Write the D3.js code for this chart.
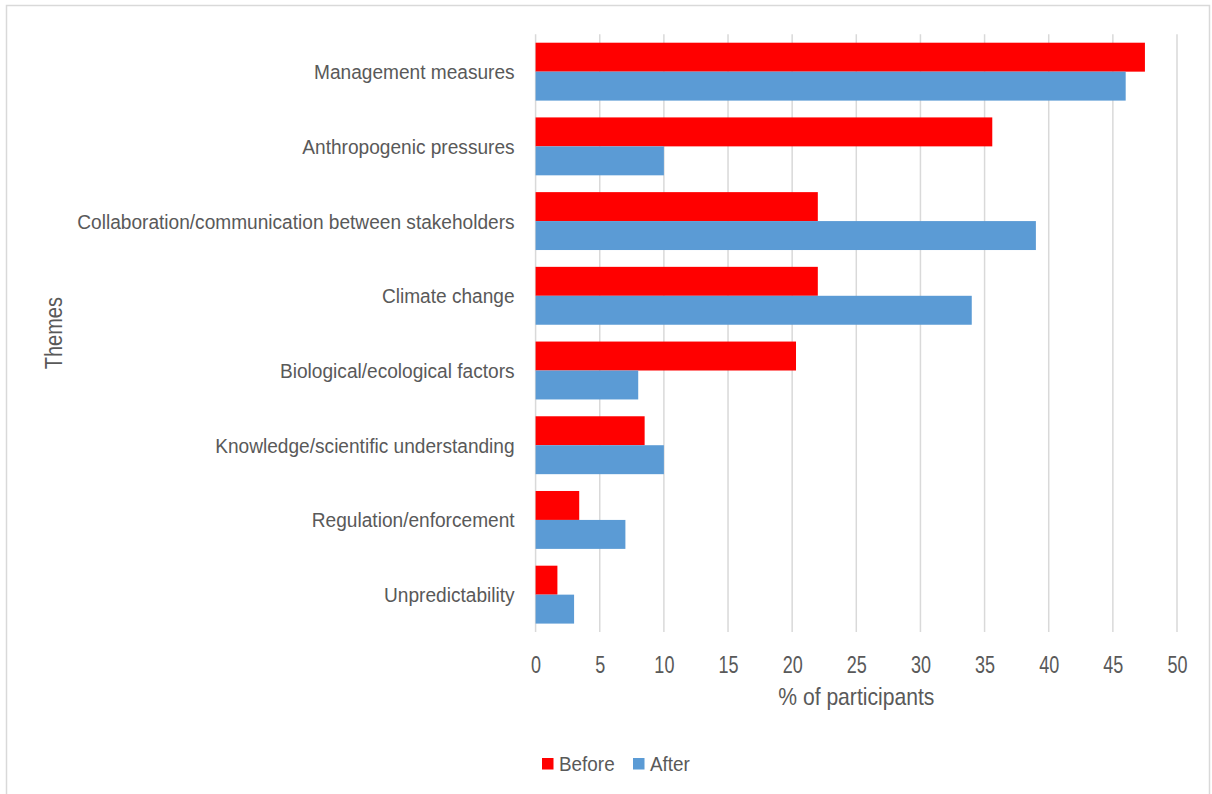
<!DOCTYPE html>
<html>
<head>
<meta charset="utf-8">
<script src="https://cdn.jsdelivr.net/npm/d3@7"></script>
<style>
  html, body { margin: 0; padding: 0; background: #fff; }
  svg { display: block; }
  text { font-family: "Liberation Sans", Arial, sans-serif; fill: #595959; }
</style>
</head>
<body>
<svg id="chart" width="1212" height="794"></svg>
<script>
// Themes mentioned by participants, before and after the workshop
const themes = [
  "Management measures",
  "Anthropogenic pressures",
  "Collaboration/communication between stakeholders",
  "Climate change",
  "Biological/ecological factors",
  "Knowledge/scientific understanding",
  "Regulation/enforcement",
  "Unpredictability"
];
const before = [47.5, 35.6, 22.0, 22.0, 20.3, 8.5, 3.4, 1.7];
const after = [46, 10, 39, 34, 8, 10, 7, 3];
const seriesNames = ["Before", "After"];
const seriesColors = ["#FF0000", "#5B9BD5"];
const xTicks = [0, 5, 10, 15, 20, 25, 30, 35, 40, 45, 50];

const svg = d3.select("#chart");

// outer frame
svg.append("rect")
  .attr("x", 6.5).attr("y", 5.5)
  .attr("width", 1203).attr("height", 800)
  .attr("fill", "none").attr("stroke", "#d9d9d9").attr("stroke-width", 1.5);

const plot = { left: 535.6, right: 1177, top: 34.3, bottom: 632 };

const x = d3.scaleLinear().domain([0, 50]).range([plot.left, plot.right]);
const y = d3.scaleBand().domain(themes).range([plot.top, plot.bottom])
  .paddingInner(0.225).paddingOuter(0.1125);
const ySub = d3.scaleBand().domain(seriesNames).range([0, y.bandwidth()]);

// vertical gridlines
svg.append("g")
  .selectAll("line")
  .data(xTicks)
  .join("line")
  .attr("x1", d => x(d)).attr("x2", d => x(d))
  .attr("y1", plot.top).attr("y2", plot.bottom)
  .attr("stroke", "#d9d9d9").attr("stroke-width", 1.5);

// bars
const rows = themes.map((t, i) => ({ theme: t, values: [before[i], after[i]] }));
svg.append("g")
  .selectAll("g")
  .data(rows)
  .join("g")
  .attr("transform", d => `translate(0,${y(d.theme)})`)
  .selectAll("rect")
  .data(d => d.values.map((v, j) => ({ key: seriesNames[j], value: v, color: seriesColors[j] })))
  .join("rect")
  .attr("x", x(0))
  .attr("y", d => ySub(d.key))
  .attr("width", d => x(d.value) - x(0))
  .attr("height", ySub.bandwidth())
  .attr("fill", d => d.color);

// x axis tick labels (tall, condensed numerals)
const xAxis = d3.axisBottom(x).tickValues(xTicks).tickSize(0).tickPadding(0);
const gx = svg.append("g").attr("transform", `translate(0,${plot.bottom})`).call(xAxis);
gx.select(".domain").remove();
gx.selectAll("text")
  .attr("font-size", 24).attr("fill", "#595959")
  .attr("font-family", "Liberation Sans, Arial, sans-serif")
  .attr("y", 41).attr("dy", 0)
  .attr("transform", "scale(0.75,1)");

// y axis category labels
const labelScale = 0.91;
const yAxis = d3.axisLeft(y).tickSize(0).tickPadding(20);
const gy = svg.append("g").attr("transform", `translate(${plot.left},0)`).call(yAxis);
gy.select(".domain").remove();
gy.selectAll("text")
  .attr("font-size", 21).attr("fill", "#595959")
  .attr("font-family", "Liberation Sans, Arial, sans-serif")
  .attr("x", -21 / labelScale)
  .attr("dy", "0.36em")
  .attr("transform", `scale(${labelScale},1)`);

// axis titles
svg.append("g")
  .attr("transform", `translate(${(plot.left + plot.right) / 2},705)`)
  .append("text")
  .attr("transform", "scale(0.88,1)")
  .attr("text-anchor", "middle").attr("font-size", 24)
  .text("% of participants");

svg.append("g")
  .attr("transform", `translate(62,${(plot.top + plot.bottom) / 2}) rotate(-90)`)
  .append("text")
  .attr("transform", "scale(0.87,1)")
  .attr("text-anchor", "middle").attr("font-size", 23)
  .text("Themes");

// legend
const legend = svg.append("g").attr("transform", "translate(542,758)");
const items = [
  { name: "Before", color: seriesColors[0], dx: 0 },
  { name: "After", color: seriesColors[1], dx: 91 }
];
const li = legend.selectAll("g").data(items).join("g")
  .attr("transform", d => `translate(${d.dx},0)`);
li.append("rect").attr("width", 11.5).attr("height", 11.5).attr("fill", d => d.color);
li.append("g").attr("transform", "translate(17,13)")
  .append("text").attr("transform", "scale(0.9,1)")
  .attr("font-size", 21).text(d => d.name);
</script>
</body>
</html>
